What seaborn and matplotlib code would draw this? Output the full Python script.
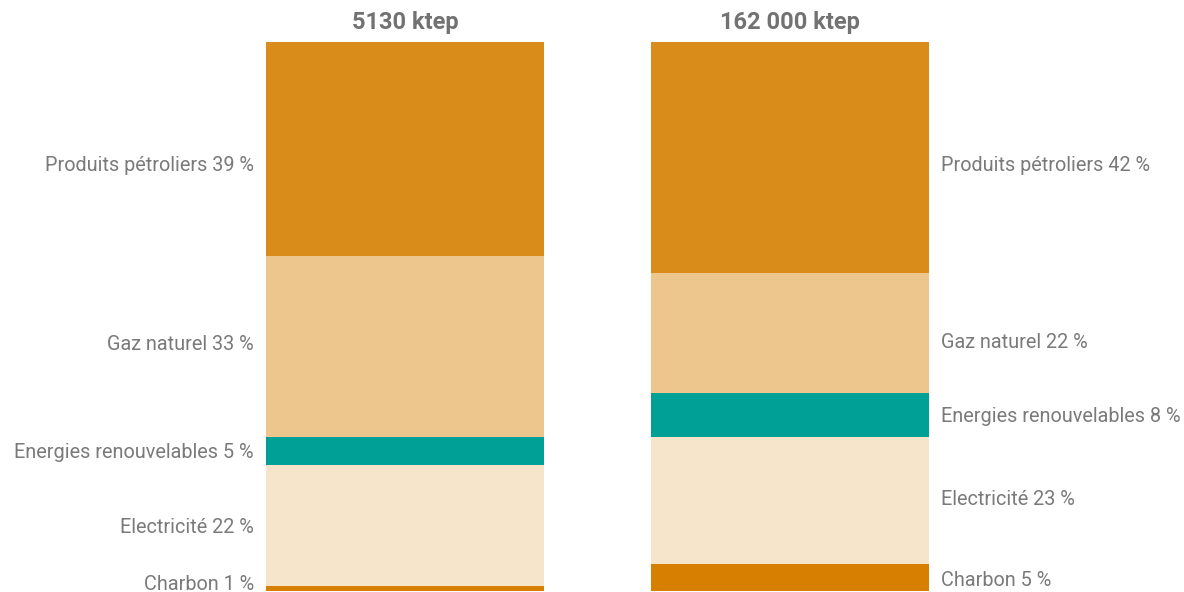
import matplotlib
matplotlib.use("Agg")
import matplotlib.pyplot as plt
import seaborn as sns
import numpy as np
import pandas as pd

# Final energy consumption by source (share in %), two scopes
totals = ["5130 ktep", "162 000 ktep"]
sources = ["Charbon", "Electricité", "Energies renouvelables", "Gaz naturel", "Produits pétroliers"]
share_left = [1, 22, 5, 33, 39]
share_right = [5, 23, 8, 22, 42]
colors = ["#D77F00", "#F6E5CB", "#00A096", "#ECC68C", "#D98C19"]

sns.set_theme(style="white")
plt.rcParams["font.family"] = ["Roboto", "DejaVu Sans"]

fig = plt.figure(figsize=(11.84, 5.92), dpi=100)
ax = fig.add_axes([0, 0, 1, 1])

shares = np.array([share_left, share_right], dtype=float)  # (2, n_sources)
cum = np.cumsum(shares, axis=1)

# Stacked bars: draw cumulative totals from the top segment down
bar_width = 0.722
for i in range(len(sources) - 1, -1, -1):
    df = pd.DataFrame({"total": totals, "value": cum[:, i]})
    sns.barplot(data=df, x="total", y="value", color=colors[i], width=bar_width,
                saturation=1, edgecolor="none", linewidth=0, ax=ax)

px_per_unit = 549 / 100.0
ax.set_ylim(-(592 - 591) / px_per_unit, 100 + 42 / px_per_unit)
ax.set_xlim(-405 / 385, -405 / 385 + 1184 / 385)
ax.axis("off")

# vertical nudges of the labels (pixels, positive = down), per column
nudge_px = [[-4, 2, 1, -2, 16], [3, -1, 1, 10, 8]]

label_color = "#7a7a7a"
for b in range(2):
    for i, src in enumerate(sources):
        lo = cum[b, i] - shares[b, i]
        yc = (lo + cum[b, i]) / 2
        text = f"{src} {int(shares[b, i])} %"
        dy = -nudge_px[b][i] * 0.72
        if b == 0:
            ax.annotate(text, xy=(b - bar_width / 2, yc), xytext=(-8.6, dy),
                        textcoords="offset points", ha="right", va="center",
                        fontsize=14.3, color=label_color, fontweight="normal")
        else:
            ax.annotate(text, xy=(b + bar_width / 2, yc), xytext=(8.6, dy),
                        textcoords="offset points", ha="left", va="center",
                        fontsize=14.3, color=label_color, fontweight="normal")
    ax.text(b, 100 + 19 / px_per_unit, totals[b], ha="center", va="center",
            fontsize=17, fontweight="bold", color="#727272")

fig.savefig("out.png", dpi=100)
